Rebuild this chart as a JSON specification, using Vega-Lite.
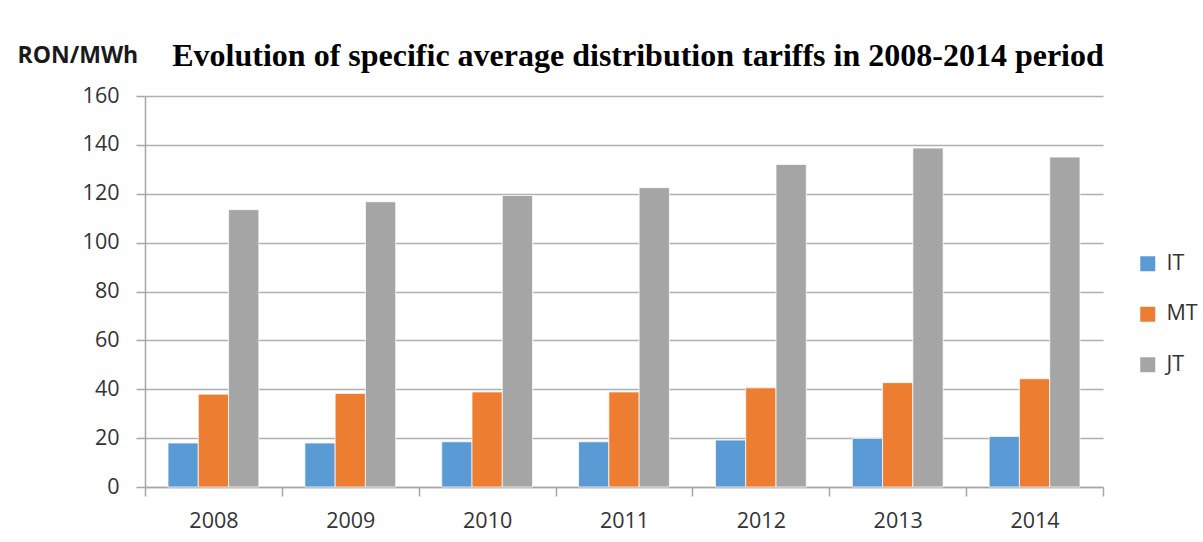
{
  "$schema": "https://vega.github.io/schema/vega-lite/v6.json",
  "autosize": {"type": "none"},
  "width": 958,
  "height": 391,
  "padding": {"left": 145, "top": 96, "right": 100, "bottom": 55},
  "background": "white",
  "title": {
    "text": "Evolution of specific average distribution tariffs in 2008-2014 period",
    "font": "Liberation Serif",
    "fontSize": 32,
    "fontWeight": "bold",
    "color": "#000000",
    "anchor": "middle",
    "frame": "group",
    "baseline": "alphabetic",
    "dx": 14,
    "offset": -54
  },
  "data": {
    "values": [
      {"year": "2008", "level": "IT", "tariff": 18.0},
      {"year": "2008", "level": "MT", "tariff": 38.0},
      {"year": "2008", "level": "JT", "tariff": 113.5},
      {"year": "2009", "level": "IT", "tariff": 18.0},
      {"year": "2009", "level": "MT", "tariff": 38.3},
      {"year": "2009", "level": "JT", "tariff": 116.7},
      {"year": "2010", "level": "IT", "tariff": 18.5},
      {"year": "2010", "level": "MT", "tariff": 38.9},
      {"year": "2010", "level": "JT", "tariff": 119.3},
      {"year": "2011", "level": "IT", "tariff": 18.5},
      {"year": "2011", "level": "MT", "tariff": 38.9},
      {"year": "2011", "level": "JT", "tariff": 122.5},
      {"year": "2012", "level": "IT", "tariff": 19.2},
      {"year": "2012", "level": "MT", "tariff": 40.6},
      {"year": "2012", "level": "JT", "tariff": 132.0},
      {"year": "2013", "level": "IT", "tariff": 19.9},
      {"year": "2013", "level": "MT", "tariff": 42.7},
      {"year": "2013", "level": "JT", "tariff": 138.7},
      {"year": "2014", "level": "IT", "tariff": 20.7},
      {"year": "2014", "level": "MT", "tariff": 44.3},
      {"year": "2014", "level": "JT", "tariff": 135.0}
    ]
  },
  "mark": {"type": "bar", "stroke": "#ffffff", "strokeWidth": 0.75},
  "encoding": {
    "x": {
      "field": "year",
      "type": "nominal",
      "scale": {"paddingInner": 0, "paddingOuter": 0},
      "axis": {
        "title": null,
        "labelAngle": 0,
        "labelFont": "Open Sans",
        "labelFontSize": 21.5,
        "labelColor": "#333333",
        "labelPadding": 14,
        "tickBand": "extent",
        "tickSize": 9,
        "tickColor": "#A6A6A6",
        "tickWidth": 1.5,
        "domainColor": "#A6A6A6",
        "domainWidth": 1.5,
        "grid": false
      }
    },
    "xOffset": {
      "field": "level",
      "type": "nominal",
      "sort": ["IT", "MT", "JT"],
      "scale": {"paddingInner": 0, "paddingOuter": 0.76}
    },
    "y": {
      "field": "tariff",
      "type": "quantitative",
      "scale": {"domain": [0, 160], "nice": false},
      "axis": {
        "title": "RON/MWh",
        "titleAngle": 0,
        "titleAlign": "left",
        "titleBaseline": "alphabetic",
        "titleX": -128,
        "titleY": -34,
        "titleFont": "Open Sans",
        "titleFontSize": 23,
        "titleFontWeight": "bold",
        "titleColor": "#1a1a1a",
        "values": [0, 20, 40, 60, 80, 100, 120, 140, 160],
        "labelFont": "Open Sans",
        "labelFontSize": 21.5,
        "labelColor": "#333333",
        "labelPadding": 17,
        "tickSize": 9,
        "tickColor": "#A6A6A6",
        "tickWidth": 1.5,
        "domainColor": "#A6A6A6",
        "domainWidth": 1.5,
        "grid": true,
        "gridColor": "#B0B0B0",
        "gridWidth": 1.5
      }
    },
    "color": {
      "field": "level",
      "type": "nominal",
      "sort": ["IT", "MT", "JT"],
      "scale": {"domain": ["IT", "MT", "JT"], "range": ["#5B9BD5", "#ED7D31", "#A5A5A5"]},
      "legend": {
        "title": null,
        "orient": "none",
        "legendX": 992,
        "legendY": 157,
        "padding": 0,
        "symbolType": "square",
        "symbolSize": 225,
        "symbolStrokeWidth": 0,
        "labelFont": "Open Sans",
        "labelFontSize": 21.5,
        "labelColor": "#333333",
        "labelOffset": 8,
        "rowPadding": 27.5
      }
    }
  },
  "config": {
    "view": {"stroke": null}
  }
}
